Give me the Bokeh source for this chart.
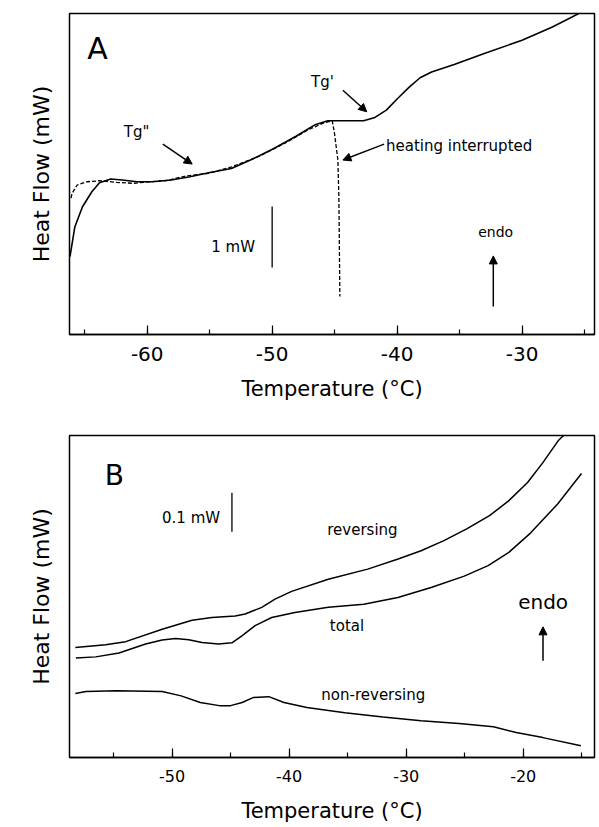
from bokeh.plotting import figure
from bokeh.layouts import column
from bokeh.models import (Range1d, SingleIntervalTicker, Label, Arrow, NormalHead,
                          PrintfTickFormatter, Title)
from bokeh.embed import file_html
from bokeh.resources import INLINE

FONT = "DejaVu Sans"

# ---------------- Panel A data (Temperature degC, Heat flow mW, arbitrary offset) -------------
a_solid_temp = [-66.18, -65.79, -65.18, -64.43, -63.82, -62.92, -62.01, -60.80, -59.60, -58.08,
                -56.58, -55.08, -53.26, -51.74, -49.94, -48.12, -46.62, -45.55, -42.68, -41.77,
                -40.86, -39.96, -39.05, -38.16, -37.24, -35.43, -33.02, -30.00, -27.57, -25.46]
a_solid_hf = [1.279, 1.770, 2.098, 2.344, 2.492, 2.552, 2.536, 2.508, 2.508, 2.536,
              2.590, 2.656, 2.725, 2.864, 3.045, 3.250, 3.438, 3.508, 3.508, 3.564,
              3.684, 3.875, 4.056, 4.215, 4.311, 4.433, 4.613, 4.831, 5.049, 5.269]

a_dash_temp = [-66.10, -66.01, -65.61, -64.82, -63.77, -62.45, -61.14, -59.82, -58.50, -56.92,
               -55.08, -53.23, -51.12, -49.01, -47.17, -45.85, -45.19, -45.01, -44.74, -44.66,
               -44.58]
a_dash_hf = [2.24, 2.318, 2.454, 2.508, 2.525, 2.498, 2.482, 2.508, 2.525, 2.602,
             2.646, 2.754, 2.918, 3.138, 3.356, 3.475, 3.508, 3.302, 2.864, 2.262,
             0.623]

a_scale_temp = [-50.0, -50.0]
a_scale_hf = [1.10, 2.10]          # 1 mW

# ---------------- Panel B data -------------
b_rev_temp = [-58.27, -55.68, -53.97, -50.85, -48.30, -46.60, -44.61, -43.76, -42.34, -41.21,
              -39.79, -36.66, -33.29, -30.69, -28.73, -26.78, -24.83, -22.88, -21.25, -19.63,
              -18.32, -17.02, -16.44]
b_rev_hf = [0.282, 0.289, 0.297, 0.329, 0.352, 0.359, 0.363, 0.368, 0.385, 0.406,
            0.426, 0.457, 0.483, 0.509, 0.530, 0.556, 0.586, 0.620, 0.658, 0.705,
            0.756, 0.812, 0.829]

b_tot_temp = [-58.23, -56.53, -54.54, -52.27, -50.85, -49.72, -48.58, -47.45, -46.03, -44.89,
              -44.04, -42.91, -41.49, -39.51, -36.66, -33.62, -30.71, -27.87, -25.04, -23.00,
              -21.23, -19.36, -17.06, -15.02]
b_tot_hf = [0.255, 0.258, 0.268, 0.291, 0.301, 0.305, 0.302, 0.295, 0.291, 0.294,
            0.312, 0.338, 0.359, 0.372, 0.385, 0.393, 0.410, 0.436, 0.465, 0.492,
            0.526, 0.576, 0.650, 0.728]

b_nrev_temp = [-58.27, -57.36, -54.76, -50.86, -49.23, -47.60, -45.97, -45.00, -44.02, -43.04,
               -41.74, -40.44, -38.49, -35.24, -31.98, -28.73, -25.48, -22.55, -20.60, -18.32,
               -15.07]
b_nrev_hf = [0.164, 0.169, 0.171, 0.169, 0.158, 0.141, 0.133, 0.133, 0.141, 0.154,
             0.156, 0.141, 0.128, 0.115, 0.104, 0.094, 0.087, 0.079, 0.064, 0.051,
             0.030]

b_scale_temp = [-44.89, -44.89]
b_scale_hf = [0.579, 0.679]        # 0.1 mW


def style(p, tick_size, title_size, tick_standoff, title_standoff, ylab_offset):
    p.xgrid.visible = False
    p.ygrid.visible = False
    p.yaxis.visible = False
    p.outline_line_color = "black"
    p.outline_line_width = 1.5
    p.outline_line_alpha = 1.0
    p.background_fill_color = "white"
    p.border_fill_color = "white"
    ax = p.xaxis[0]
    ax.ticker = SingleIntervalTicker(interval=10, num_minor_ticks=2)
    ax.formatter = PrintfTickFormatter(format="%d")
    ax.axis_line_color = "black"
    ax.axis_line_width = 1.5
    ax.major_tick_in = 9
    ax.major_tick_out = 0
    ax.minor_tick_in = 5
    ax.minor_tick_out = 0
    ax.major_tick_line_color = "black"
    ax.minor_tick_line_color = "black"
    ax.major_tick_line_width = 1.2
    ax.minor_tick_line_width = 1.2
    ax.major_label_text_font = FONT
    ax.major_label_text_font_size = tick_size
    ax.major_label_text_color = "black"
    ax.major_label_standoff = tick_standoff
    ax.axis_label = "Temperature (°C)"
    ax.axis_label_text_font = FONT
    ax.axis_label_text_font_size = title_size
    ax.axis_label_text_font_style = "normal"
    ax.axis_label_text_color = "black"
    ax.axis_label_standoff = title_standoff
    p.add_layout(Title(text="Heat Flow (mW)", align="center", offset=ylab_offset,
                       text_font=FONT, text_font_size="22px", text_font_style="normal",
                       text_color="black", standoff=32), "left")


def txt(p, x, y, s, size, align="center"):
    p.add_layout(Label(x=x, y=y, text=s, text_font=FONT, text_font_size=size,
                       text_align=align, text_baseline="middle", text_color="black"))


def arrow(p, x0, y0, x1, y1):
    p.add_layout(Arrow(end=NormalHead(size=8, fill_color="black", line_color="black", line_width=1),
                       x_start=x0, y_start=y0, x_end=x1, y_end=y1,
                       line_color="black", line_width=1.5))


# ---------------- Figure A -------------
pa = figure(width=599, height=415, x_range=Range1d(-66.22, -24.20), y_range=Range1d(0, 5.27),
            output_backend="svg", toolbar_location=None,
            min_border_left=69, min_border_right=0, min_border_top=13, min_border_bottom=81)
style(pa, "20px", "21px", 12, 13, 0)

pa.line(a_solid_temp, a_solid_hf, line_color="black", line_width=1.6)
pa.line(a_dash_temp, a_dash_hf, line_color="black", line_width=1.3, line_dash="4 2")
pa.line(a_scale_temp, a_scale_hf, line_color="black", line_width=1.3)

txt(pa, -63.97, 4.70, "A", "30px")
txt(pa, -45.98, 4.143, "Tg'", "15px")
arrow(pa, -44.34, 4.011, -42.43, 3.656)
txt(pa, -60.85, 3.323, 'Tg"', "15px")
arrow(pa, -58.75, 3.126, -56.40, 2.798)
txt(pa, -40.89, 3.093, "heating interrupted", "15px", align="left")
arrow(pa, -41.04, 3.126, -44.34, 2.864)
txt(pa, -53.12, 1.443, "1 mW", "15px")
txt(pa, -32.11, 1.675, "endo", "14px")
arrow(pa, -32.30, 0.459, -32.30, 1.290)

# ---------------- Figure B -------------
pb = figure(width=599, height=412, x_range=Range1d(-58.77, -13.91), y_range=Range1d(0, 0.8256),
            output_backend="svg", toolbar_location=None,
            min_border_left=67, min_border_right=5, min_border_top=20, min_border_bottom=70)
style(pb, "16px", "21px", 12, 14, -25)

pb.line(b_rev_temp, b_rev_hf, line_color="black", line_width=1.5)
pb.line(b_tot_temp, b_tot_hf, line_color="black", line_width=1.5)
pb.line(b_nrev_temp, b_nrev_hf, line_color="black", line_width=1.5)
pb.line(b_scale_temp, b_scale_hf, line_color="black", line_width=1.3)

txt(pb, -54.94, 0.7223, "B", "28px")
txt(pb, -48.38, 0.6146, "0.1 mW", "15px")
txt(pb, -33.74, 0.5838, "reversing", "15px")
txt(pb, -35.06, 0.3377, "total", "15px")
txt(pb, -32.81, 0.1608, "non-reversing", "15px")
txt(pb, -18.30, 0.398, "endo", "20px")
arrow(pb, -18.31, 0.248, -18.31, 0.335)

layout = column(pa, pb, spacing=0)
open("out.html", "w").write(file_html(layout, INLINE))
